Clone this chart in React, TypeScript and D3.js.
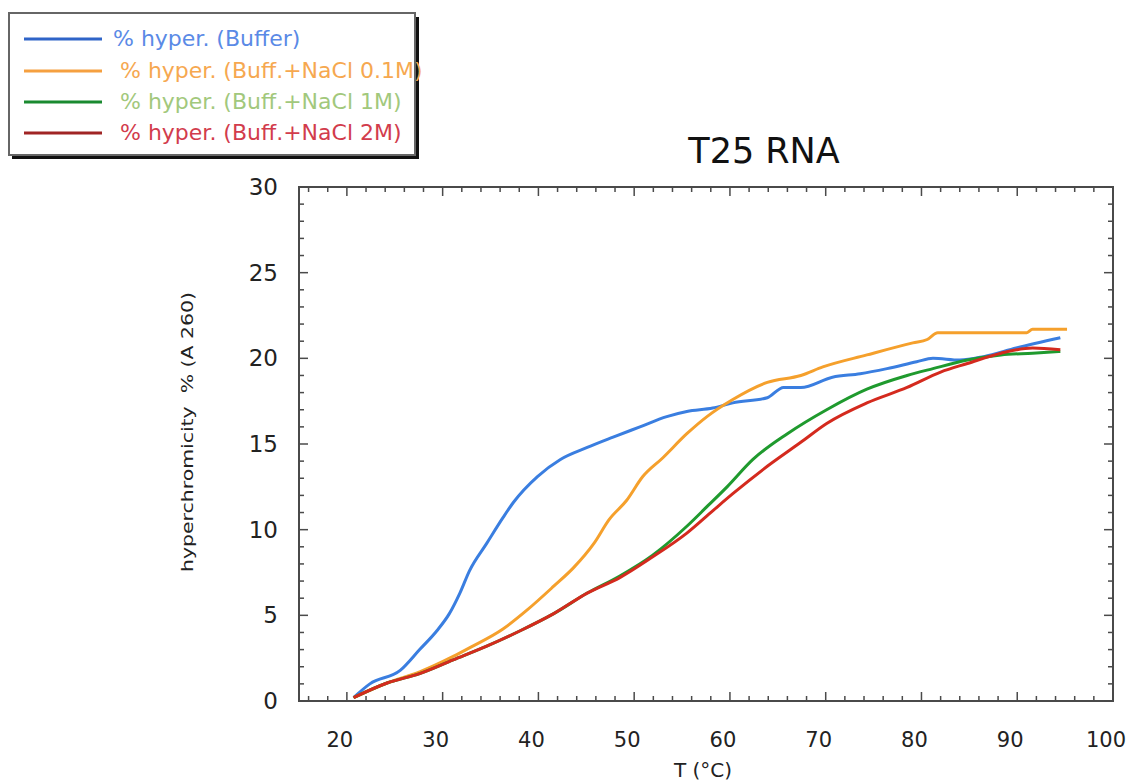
import React from "react";
import * as d3 from "d3";

const W = 1146;
const H = 782;

const seriesNames = [
  "% hyper. (Buffer)",
  "% hyper. (Buff.+NaCl 0.1M)",
  "% hyper. (Buff.+NaCl 1M)",
  "% hyper. (Buff.+NaCl 2M)",
];

const bufferT = [20.7, 22.4, 25.6, 27.6, 29.4, 30.7, 31.8, 32.8, 34.6, 36.3, 37.4, 39.9, 42.3, 45.1, 47.8, 50.6, 53.4, 55.5, 58.2, 60.3, 63.9, 65.6, 67.4, 70.7, 73.6, 76.4, 79.5, 81.2, 84.0, 86.5, 89.9, 94.5];
const bufferY = [0.2, 1.0, 1.8, 3.0, 4.1, 5.1, 6.3, 7.6, 9.2, 10.7, 11.6, 13.1, 14.1, 14.8, 15.4, 16.0, 16.6, 16.9, 17.1, 17.4, 17.7, 18.3, 18.3, 18.9, 19.1, 19.4, 19.8, 20.0, 19.9, 20.1, 20.6, 21.2];

const nacl01T = [20.7, 24.2, 27.6, 31.1, 32.8, 36.3, 38.8, 41.6, 43.7, 45.8, 47.4, 49.2, 50.9, 53.0, 55.5, 57.6, 60.3, 63.9, 67.4, 69.7, 74.3, 79.1, 80.6, 81.7, 84.8, 91.0, 91.6, 95.2];
const nacl01Y = [0.2, 1.05, 1.7, 2.6, 3.1, 4.2, 5.3, 6.7, 7.8, 9.2, 10.6, 11.7, 13.1, 14.2, 15.6, 16.6, 17.6, 18.6, 19.0, 19.5, 20.2, 20.9, 21.1, 21.5, 21.5, 21.5, 21.7, 21.7];

const nacl1T = [20.7, 24.2, 27.6, 31.1, 34.6, 38.1, 41.6, 45.1, 48.5, 51.9, 55.5, 57.7, 59.7, 62.4, 66.0, 70.1, 74.3, 78.5, 81.2, 84.8, 88.3, 91.6, 94.5];
const nacl1Y = [0.2, 1.05, 1.6, 2.4, 3.2, 4.1, 5.1, 6.3, 7.3, 8.5, 10.2, 11.4, 12.5, 14.1, 15.6, 17.0, 18.2, 19.0, 19.4, 19.9, 20.2, 20.3, 20.4];

const nacl2T = [20.7, 24.2, 27.6, 31.1, 34.6, 38.1, 41.6, 45.1, 48.5, 51.9, 55.5, 58.2, 60.3, 63.9, 67.4, 70.1, 74.3, 78.5, 82.0, 84.8, 88.3, 91.6, 94.5];
const nacl2Y = [0.2, 1.05, 1.6, 2.4, 3.2, 4.1, 5.1, 6.3, 7.2, 8.4, 9.8, 11.1, 12.1, 13.7, 15.1, 16.2, 17.4, 18.3, 19.2, 19.7, 20.3, 20.6, 20.5];

const xTicks = [20, 30, 40, 50, 60, 70, 80, 90, 100];
const yTicks = [0, 5, 10, 15, 20, 25, 30];

const lineColors = ["#3a7ee0", "#f5a02c", "#1f9a2e", "#d42a1e"];
const legendLineColors = ["#2f64c8", "#f5a040", "#1a8a30", "#a02424"];
const legendTextColors = ["#5a8ae6", "#f6a850", "#a2c87c", "#d23c4c"];

const FONT = "'DejaVu Sans', Verdana, sans-serif";

export default function App() {
  const left = 299, right = 1113, top = 187, bottom = 701;
  const x = d3.scaleLinear().domain([15, 100]).range([left, right]);
  const y = d3.scaleLinear().domain([0, 30]).range([bottom, top]);

  const series = [
    { t: bufferT, v: bufferY },
    { t: nacl01T, v: nacl01Y },
    { t: nacl1T, v: nacl1Y },
    { t: nacl2T, v: nacl2Y },
  ];

  const line = d3
    .line<[number, number]>()
    .x((d) => x(d[0]))
    .y((d) => y(d[1]))
    .curve(d3.curveMonotoneX);

  const xMinor = d3.range(16, 100, 2).filter((v) => v % 10 !== 0);
  const yMinor = d3.range(1, 30, 1).filter((v) => v % 5 !== 0);
  const axisColor = "#4a4a4a";
  const majorLen = 9;
  const minorLen = 5;

  const legendRows = [39, 71, 102, 133];

  return (
    <svg
      width={W}
      height={H}
      style={{ position: "absolute", left: 0, top: 0, background: "#fff" }}
    >
      {/* legend */}
      <rect x={12} y={17} width={407} height={142} fill="#111" />
      <rect x={9} y={13} width={406} height={142} fill="#fff" stroke="#666" strokeWidth={2} />
      {seriesNames.map((name, i) => (
        <g key={name}>
          <line
            x1={24}
            x2={102}
            y1={legendRows[i]}
            y2={legendRows[i]}
            stroke={legendLineColors[i]}
            strokeWidth={3}
          />
          <text
            x={i === 0 ? 113 : 120}
            y={legendRows[i] + 7}
            fontFamily={FONT}
            fontSize={22}
            fill={legendTextColors[i]}
          >
            {name}
          </text>
        </g>
      ))}

      {/* title */}
      <text x={764} y={163} textAnchor="middle" fontFamily={FONT} fontSize={35} fill="#111">
        T25 RNA
      </text>

      {/* frame */}
      <rect x={left} y={top} width={right - left} height={bottom - top} fill="none" stroke={axisColor} strokeWidth={2} />

      {/* x ticks */}
      {xTicks.map((t) => (
        <g key={"xt" + t}>
          <line x1={x(t)} x2={x(t)} y1={bottom} y2={bottom - majorLen} stroke={axisColor} strokeWidth={1.5} />
          <line x1={x(t)} x2={x(t)} y1={top} y2={top + majorLen} stroke={axisColor} strokeWidth={1.5} />
          <text x={x(t) - 7} y={747} textAnchor="middle" fontFamily={FONT} fontSize={21} fill="#222">
            {t}
          </text>
        </g>
      ))}
      {xMinor.map((t) => (
        <g key={"xm" + t}>
          <line x1={x(t)} x2={x(t)} y1={bottom} y2={bottom - minorLen} stroke={axisColor} strokeWidth={1.5} />
          <line x1={x(t)} x2={x(t)} y1={top} y2={top + minorLen} stroke={axisColor} strokeWidth={1.5} />
        </g>
      ))}

      {/* y ticks */}
      {yTicks.map((t) => (
        <g key={"yt" + t}>
          <line x1={left} x2={left + majorLen} y1={y(t)} y2={y(t)} stroke={axisColor} strokeWidth={1.5} />
          <line x1={right} x2={right - majorLen} y1={y(t)} y2={y(t)} stroke={axisColor} strokeWidth={1.5} />
          <text x={278} y={y(t) + 8} textAnchor="end" fontFamily={FONT} fontSize={23} fill="#222">
            {t}
          </text>
        </g>
      ))}
      {yMinor.map((t) => (
        <g key={"ym" + t}>
          <line x1={left} x2={left + minorLen} y1={y(t)} y2={y(t)} stroke={axisColor} strokeWidth={1.5} />
          <line x1={right} x2={right - minorLen} y1={y(t)} y2={y(t)} stroke={axisColor} strokeWidth={1.5} />
        </g>
      ))}

      {/* axis labels */}
      <text x={703} y={777} textAnchor="middle" fontFamily={FONT} fontSize={20} fill="#222">
        T (°C)
      </text>
      <text
        transform="translate(193,432) rotate(-90)"
        textAnchor="middle"
        fontFamily={FONT}
        fontSize={16}
        fill="#222"
        textLength={280}
        lengthAdjust="spacingAndGlyphs"
        style={{ whiteSpace: "pre" }}
      >
        {"hyperchromicity  % (A 260)"}
      </text>

      {/* curves */}
      {[0, 1, 2, 3].map((i) => (
        <path
          key={"s" + i}
          d={line(series[i].t.map((t, k) => [t, series[i].v[k]] as [number, number])) || ""}
          fill="none"
          stroke={lineColors[i]}
          strokeWidth={3}
          strokeLinejoin="round"
        />
      ))}
    </svg>
  );
}
